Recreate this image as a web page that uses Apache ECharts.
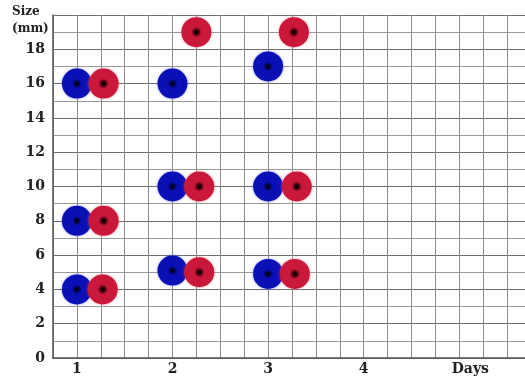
<!DOCTYPE html>
<html>
<head>
	<meta charset="utf-8">
	<script type="text/javascript" src="https://cdn.jsdelivr.net/npm/echarts@6/dist/echarts.min.js"></script>
</head>
<body style="margin:0">

<div id="main" style="width:525px;height:379px;"></div>

<script type="text/javascript">
  // x = days, y = size (mm)
  var blueDays = [1, 1, 1, 2, 2, 2, 3, 3, 3];
  var blueSize = [16, 8, 4, 16, 10, 5.1, 17, 10, 4.9];
  var redDays = [1.28, 1.28, 1.27, 2.25, 2.28, 2.28, 3.27, 3.3, 3.28];
  var redSize = [16, 8, 4, 19, 10, 5, 19, 10, 4.9];
  var dayTicks = [1, 2, 3, 4];
  var sizeTicks = [0, 2, 4, 6, 8, 10, 12, 14, 16, 18];

  function pairs(xs, ys) {
    var out = [];
    for (var i = 0; i < xs.length; i++) out.push([xs[i], ys[i]]);
    return out;
  }

  // flat disc with a small dark centre
  function ball(dark, mid, main) {
    return {
      type: 'radial', x: 0.5, y: 0.5, r: 0.5,
      colorStops: [
        {offset: 0, color: dark},
        {offset: 0.1, color: dark},
        {offset: 0.22, color: mid},
        {offset: 0.34, color: main},
        {offset: 1, color: main}
      ]
    };
  }

  var labelFont = {color: '#222', fontFamily: 'DejaVu Serif', fontWeight: 'bold', fontSize: 14};

  var myChart = echarts.init(document.getElementById('main'));
  var option = {
    animation: false,
    backgroundColor: '#fff',
    grid: {left: 53, top: 15, right: -6, bottom: 21, containLabel: false, outerBoundsMode: 'none'},
    graphic: [{
      type: 'text', left: 12, top: 3,
      style: {text: 'Size\n(mm)', font: 'bold 12px "DejaVu Serif"', fill: '#222', lineHeight: 17}
    }],
    xAxis: {
      type: 'value', min: 0.75, max: 5.75, interval: 0.25,
      axisLine: {show: true, lineStyle: {color: '#555', width: 1.5}},
      axisTick: {show: false},
      splitLine: {show: true, lineStyle: {color: '#8a8a8a', width: 1}},
      axisLabel: Object.assign({
        margin: 4,
        formatter: function (v) {
          if (dayTicks.indexOf(v) >= 0) return String(v);
          if (v === 5) return '{d|Days}';
          return '';
        },
        rich: {d: {fontFamily: 'DejaVu Serif', fontWeight: 'bold', fontSize: 14, color: '#222', padding: [0, 0, 0, 22]}}
      }, labelFont)
    },
    yAxis: {
      type: 'value', min: 0, max: 20, interval: 1,
      axisLine: {show: true, lineStyle: {color: '#555', width: 1.5}},
      axisTick: {show: false},
      splitLine: {show: true, lineStyle: {color: ['#6f6f6f', '#9a9a9a'], width: 1}},
      axisLabel: Object.assign({
        margin: 8,
        formatter: function (v) {
          return sizeTicks.indexOf(v) >= 0 ? String(v) : '';
        }
      }, labelFont)
    },
    series: [
      {
        type: 'scatter', name: 'blue', symbolSize: 30,
        data: pairs(blueDays, blueSize),
        itemStyle: {color: ball('#000022', '#05087a', '#0b10b6'), opacity: 1,
          shadowBlur: 3, shadowColor: 'rgba(80,80,255,0.6)'}
      },
      {
        type: 'scatter', name: 'red', symbolSize: 30,
        data: pairs(redDays, redSize),
        itemStyle: {color: ball('#140003', '#700818', '#c9183a'), opacity: 1,
          shadowBlur: 3, shadowColor: 'rgba(255,90,110,0.6)'}
      }
    ]
  };
  myChart.setOption(option);
</script>
</body>
</html>
